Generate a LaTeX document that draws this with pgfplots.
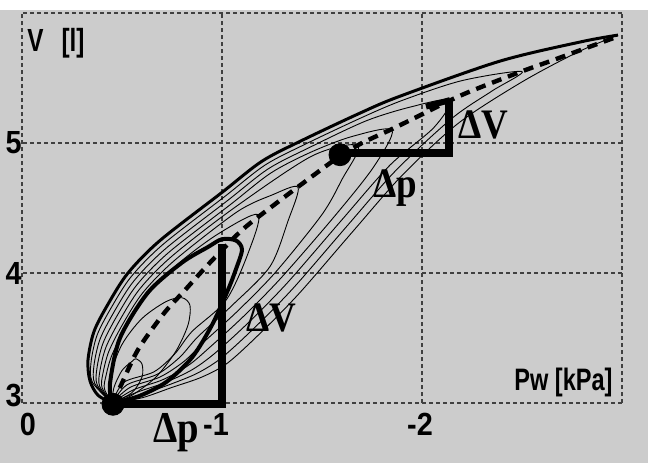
\documentclass[border=0pt]{standalone}
\usepackage{pgfplots}
\pgfplotsset{compat=1.18}
\usepackage{fontspec}
\setmainfont{Liberation Sans}
\newfontfamily\tickfont[FakeStretch=0.9]{Liberation Sans}
\newfontfamily\labfont[FakeStretch=0.76]{Liberation Sans}
\newfontfamily\dfont[FakeStretch=0.88]{Liberation Serif}
\definecolor{bg}{gray}{0.8}

\begin{document}
\begin{tikzpicture}
% page background: white strip on top, dithered grey below
\fill[white] (-11pt,-30pt) rectangle (313pt,201.5pt);
\fill[bg] (-11pt,-30pt) rectangle (313pt,196.5pt);
\begin{axis}[
  at={(0,0)}, anchor=south west,
  scale only axis, width=300pt, height=195pt,
  x dir=reverse,
  xmin=-3, xmax=0, ymin=3, ymax=6,
  xtick={0,-1,-2,-3}, ytick={3,4,5,6},
  xticklabels={{\hspace*{6pt}0},{-1\hspace*{6pt}},{-2\hspace*{2pt}},{}},
  yticklabels={{\raisebox{8pt}{3}},4,5,{}},
  tick label style={font=\tickfont\fontsize{16}{18}\selectfont\bfseries},
  xticklabel style={anchor=north, inner sep=0pt, yshift=-5pt},
  yticklabel style={anchor=east, inner sep=0pt, xshift=0pt},
  major tick length=0pt,
  axis line style={draw=none},
  grid=major,
  major grid style={black!75, line width=0.6pt, dash pattern=on 2pt off 1.5pt},
  clip=false,
  thinloop/.style={black, line width=0.45pt, smooth},
]
% loops, from the smallest to the largest
\addplot[thinloop] coordinates {(-0.45,3.0) (-0.46,3.12) (-0.5,3.25) (-0.55,3.32) (-0.57,3.34) (-0.6,3.3) (-0.6,3.2) (-0.55,3.08) (-0.45,3.0)};
\addplot[thinloop] coordinates {(-0.45,3.0) (-0.44,3.2) (-0.5,3.45) (-0.6,3.65) (-0.72,3.78) (-0.8,3.81) (-0.84,3.75) (-0.83,3.6) (-0.77,3.4) (-0.67,3.2) (-0.55,3.06) (-0.45,3.0)};
\addplot[thinloop] coordinates {(-0.45,3.0) (-0.412,3.11) (-0.42,3.21) (-0.45,3.37) (-0.52,3.58) (-0.62,3.82) (-0.78,4.07) (-0.98,4.3) (-1.18,4.45) (-1.13,4.15) (-1.02,3.79) (-0.85,3.55) (-0.765,3.38) (-0.66,3.24) (-0.51,3.16) (-0.45,3.0)};
\addplot[thinloop] coordinates {(-0.45,3.0) (-0.40,3.12) (-0.405,3.23) (-0.435,3.40) (-0.505,3.61) (-0.605,3.85) (-0.765,4.10) (-1.075,4.47) (-1.25,4.6) (-1.38,4.66) (-1.33,4.4) (-1.24,4.05) (-1.05,3.75) (-0.88,3.51) (-0.7875,3.35) (-0.675,3.22) (-0.525,3.14) (-0.45,3.0)};
\addplot[thinloop] coordinates {(-0.45,3.0) (-0.388,3.13) (-0.39,3.25) (-0.42,3.43) (-0.49,3.64) (-0.59,3.88) (-0.75,4.13) (-1.06,4.5) (-1.45,4.9) (-1.68,4.98) (-1.6,4.72) (-1.5,4.45) (-1.27,4.01) (-1.08,3.71) (-0.91,3.47) (-0.81,3.32) (-0.69,3.2) (-0.54,3.12) (-0.45,3.0)};
\addplot[thinloop] coordinates {(-0.45,3.0) (-0.376,3.14) (-0.375,3.27) (-0.405,3.46) (-0.475,3.67) (-0.575,3.91) (-0.735,4.16) (-1.045,4.53) (-1.245,4.77) (-1.445,4.93) (-1.65,5.05) (-1.85,5.1) (-1.76,4.82) (-1.57,4.45) (-1.3,3.97) (-1.11,3.67) (-0.94,3.43) (-0.8325,3.29) (-0.705,3.18) (-0.555,3.1) (-0.45,3.0)};
\addplot[thinloop] coordinates {(-0.45,3.0) (-0.364,3.15) (-0.36,3.29) (-0.39,3.49) (-0.46,3.70) (-0.56,3.94) (-0.72,4.19) (-1.03,4.56) (-1.23,4.80) (-1.43,4.96) (-1.72,5.17) (-1.95,5.28) (-2.14,5.33) (-2.06,5.12) (-1.84,4.83) (-1.6,4.41) (-1.33,3.93) (-1.14,3.63) (-0.97,3.39) (-0.855,3.26) (-0.72,3.16) (-0.57,3.08) (-0.45,3.0)};
\addplot[thinloop] coordinates {(-0.45,3.0) (-0.352,3.16) (-0.345,3.31) (-0.375,3.52) (-0.445,3.73) (-0.545,3.97) (-0.705,4.22) (-1.015,4.59) (-1.215,4.83) (-1.415,4.99) (-1.705,5.2) (-1.905,5.33) (-2.2,5.48) (-2.5,5.55) (-2.35,5.4) (-2.15,5.19) (-1.87,4.79) (-1.63,4.37) (-1.36,3.89) (-1.17,3.59) (-1.0,3.35) (-0.8775,3.23) (-0.735,3.14) (-0.585,3.06) (-0.45,3.0)};
% largest loop: bold upper branch, thin lower branch
\addplot[black, line width=1.5pt, smooth] coordinates {(-0.45,3.0) (-0.38,3.06) (-0.34,3.17) (-0.33,3.33) (-0.36,3.55) (-0.43,3.76) (-0.53,4.0) (-0.69,4.25) (-1.0,4.62) (-1.2,4.86) (-1.4,5.02) (-1.69,5.23) (-1.89,5.36) (-2.39,5.63) (-2.8,5.78) (-2.98,5.83)};
\addplot[thinloop] coordinates {(-2.98,5.83) (-2.78,5.7) (-2.5,5.47) (-2.18,5.15) (-1.9,4.75) (-1.66,4.33) (-1.39,3.85) (-1.2,3.55) (-1.03,3.31) (-0.9,3.2) (-0.75,3.12) (-0.6,3.04) (-0.45,3.0)};
% bold small loop
\addplot[black, line width=2pt, smooth] coordinates {(-0.45,3.0) (-0.44,3.15) (-0.49,3.5) (-0.63,3.85) (-0.8,4.08) (-0.93,4.2) (-1.0,4.26) (-1.07,4.25) (-1.1,4.18) (-1.07,4.03) (-1.03,3.87) (-0.95,3.6) (-0.85,3.35) (-0.72,3.16) (-0.58,3.05) (-0.45,3.0)};
\addplot[black, line width=3pt] coordinates {(-2.02,5.28) (-2.14,5.33)};
% dashed line through the loop tips
\addplot[black, line width=2.2pt, dash pattern=on 5pt off 3.5pt, smooth] coordinates {(-0.45,3.0) (-0.49,3.12) (-0.58,3.41) (-0.71,3.69) (-0.81,3.86) (-0.94,4.08) (-1.1,4.33) (-1.24,4.5) (-1.43,4.72) (-1.59,4.9) (-1.7,5.0) (-1.84,5.1) (-1.96,5.19) (-2.2,5.37) (-2.48,5.54) (-2.66,5.64) (-2.98,5.82)};
% triangles
\addplot[black, line width=4pt, line join=miter] coordinates {(-0.45,2.99) (-1.0,2.99) (-1.0,4.22)};
\addplot[black, line width=4pt, line join=miter] coordinates {(-1.59,4.92) (-2.135,4.92) (-2.135,5.33)};
\addplot[black, only marks, mark=*, mark size=5.5pt] coordinates {(-0.455,2.99) (-1.59,4.91)};
% labels
\node[font=\dfont\fontsize{22}{24}\selectfont\bfseries] at (axis cs:-0.77,2.77) {Δp};
\node[font=\dfont\fontsize{21}{23}\selectfont\bfseries] at (axis cs:-1.865,4.654) {Δp};
\node[font=\dfont\fontsize{21}{23}\selectfont\bfseries] at (axis cs:-1.245,3.654) {ΔV};
\node[font=\dfont\fontsize{21}{23}\selectfont\bfseries] at (axis cs:-2.305,5.138) {ΔV};
\node[font=\labfont\fontsize{16}{18}\selectfont\bfseries, anchor=west, inner sep=0pt] at (axis cs:-0.025,5.77) {V\hspace{9pt}[l]};
\node[font=\labfont\fontsize{15.5}{17}\selectfont\bfseries, anchor=east, inner sep=0pt] at (axis cs:-2.955,3.16) {Pw [kPa]};
\end{axis}
\end{tikzpicture}
\end{document}
